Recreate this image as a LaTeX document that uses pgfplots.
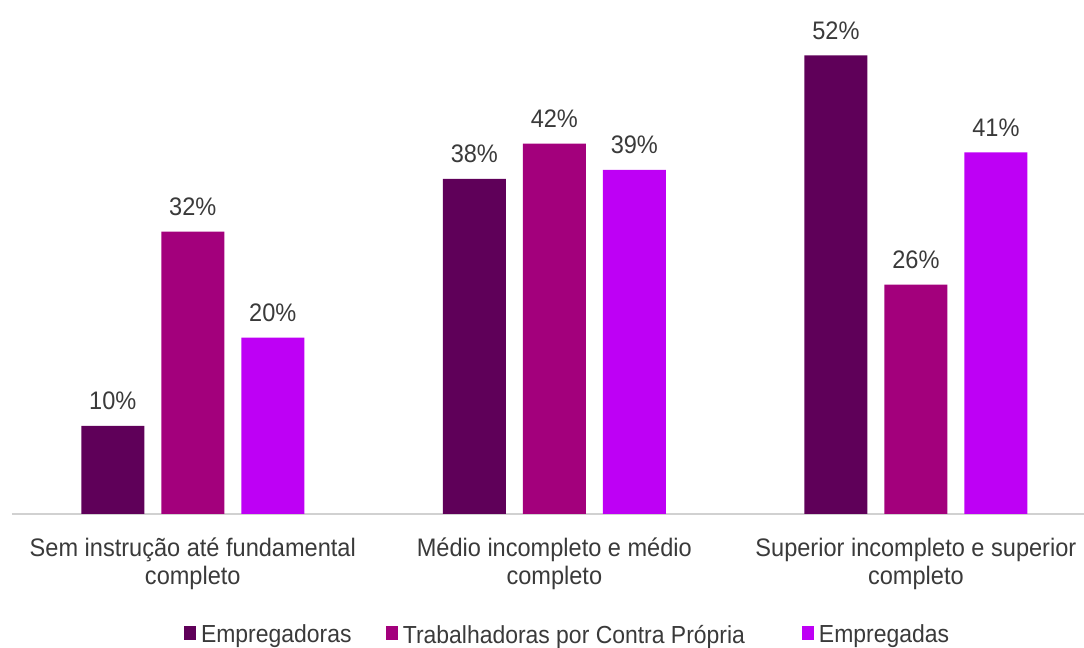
\documentclass[border=0pt]{standalone}
\usepackage{pgfplots}
\pgfplotsset{compat=1.18}
\usepackage{fontspec}
\setmainfont{Liberation Sans}[FakeStretch=0.93]
\definecolor{cE}{HTML}{5F0059}
\definecolor{cT}{HTML}{A3007C}
\definecolor{cG}{HTML}{BE00F5}
\definecolor{txt}{HTML}{3A3A3A}
\begin{document}
\begin{tikzpicture}
\useasboundingbox (0,0) rectangle (813pt,486pt);
\begin{axis}[
  at={(9pt,100.5pt)}, anchor=south west,
  scale only axis, width=804pt, height=383.7pt,
  xmin=-0.5, xmax=2.465, ymin=0, ymax=58,
  ybar=12.75pt, bar width=47.25pt,
  axis x line*=bottom, axis y line=none,
  x axis line style={draw=black!18, line width=0.9pt},
  xtick={0,1,2}, major tick length=0pt,
  /pgf/number format/assume math mode=true,
  xticklabels={{Sem instrução até fundamental\\completo},{Médio incompleto e médio\\completo},{Superior incompleto e superior\\completo}},
  xticklabel style={align=center, font=\fontsize{19}{21.5}\selectfont, text=txt, anchor=base, inner sep=0pt, yshift=-53.25pt},
  nodes near coords={\pgfmathprintnumber{\pgfplotspointmeta}\%},
  nodes near coords style={font=\fontsize{19}{21}\selectfont, text=txt, anchor=base, yshift=12pt},
  legend image code/.code={\fill[#1,draw=none] (0pt,-3.5pt) rectangle (8.5pt,7pt);},
  legend columns=3,
  legend style={draw=none, fill=none, at={(axis description cs:0.5187,-0.2365)}, anchor=center,
    font=\fontsize{18.5}{20}\selectfont, text=txt,
    /tikz/column 1/.style={column sep=2pt},
    /tikz/column 3/.style={column sep=2pt},
    /tikz/column 5/.style={column sep=2pt},
    /tikz/column 2/.style={column sep=24pt},
    /tikz/column 4/.style={column sep=41pt}},
  clip=false,
]
\addplot[fill=cE, draw=none] coordinates {(0,10) (1,38) (2,52)};
\addplot[fill=cT, draw=none] coordinates {(0,32) (1,42) (2,26)};
\addplot[fill=cG, draw=none] coordinates {(0,20) (1,39) (2,41)};
\legend{Empregadoras, Trabalhadoras por Contra Própria, Empregadas}
\end{axis}
\end{tikzpicture}
\end{document}
